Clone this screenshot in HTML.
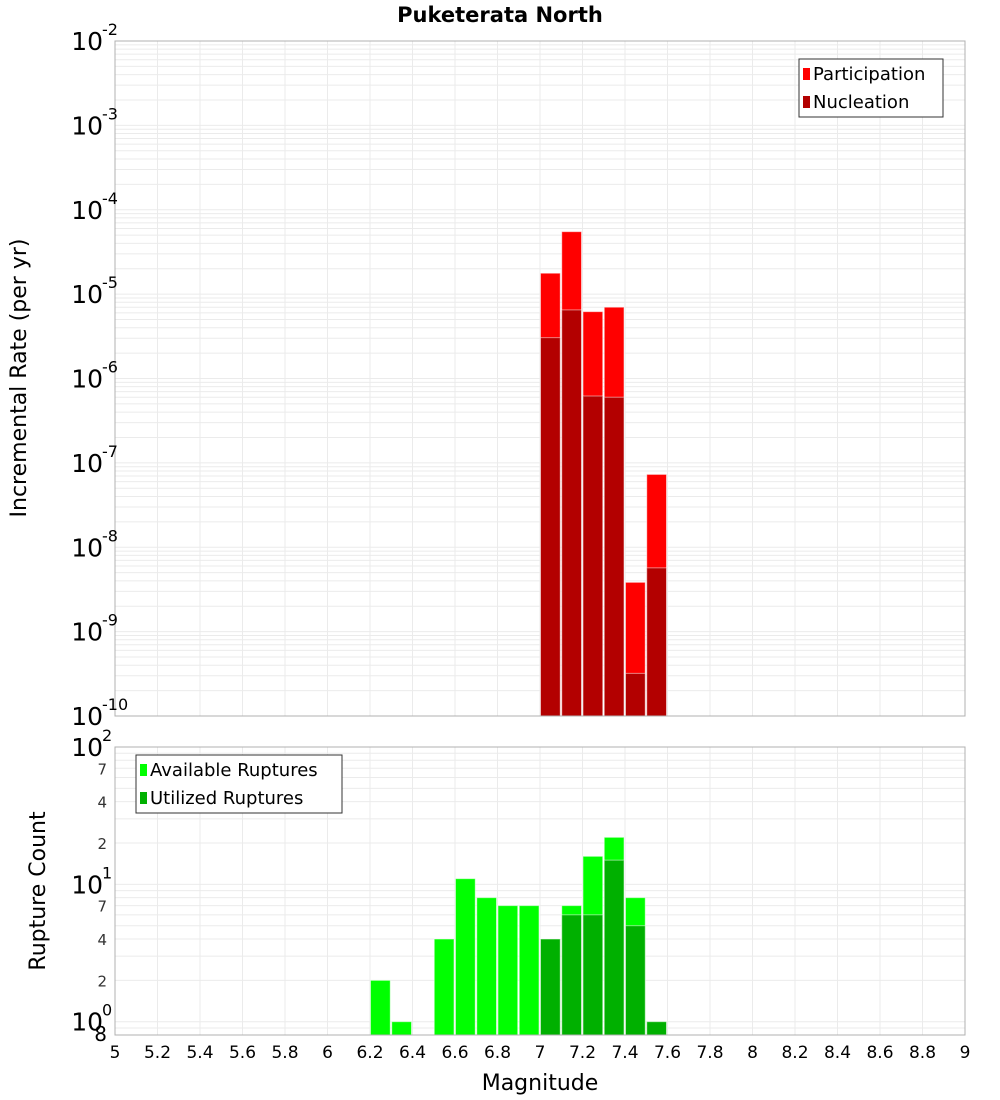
<!DOCTYPE html>
<html><head><meta charset="utf-8"><style>
html,body{margin:0;padding:0;background:#fff}
svg{display:block;font-family:"DejaVu Sans","Liberation Sans",sans-serif}
</style></head><body>
<svg id="chart" width="1000" height="1100" xmlns="http://www.w3.org/2000/svg">
<text x="500" y="22" text-anchor="middle" font-size="21" font-weight="bold">Puketerata North</text>
<g id="gTop"></g><g id="gBot"></g>
<text transform="translate(26,378) rotate(-90)" text-anchor="middle" font-size="22">Incremental Rate (per yr)</text>
<text transform="translate(45,891) rotate(-90)" text-anchor="middle" font-size="22">Rupture Count</text>
<text x="540" y="1090" text-anchor="middle" font-size="22">Magnitude</text>
</svg>
<script>
const mags=[6.25,6.35,6.55,6.65,6.75,6.85,6.95,7.05,7.15,7.25,7.35,7.45,7.55];
const participation=[0,0,0,0,0,0,0,1.77e-5,5.5e-5,6.2e-6,7.0e-6,3.84e-9,7.3e-8];
const nucleation=[0,0,0,0,0,0,0,3.05e-6,6.5e-6,6.2e-7,6.0e-7,3.2e-10,5.7e-9];
const available=[2,1,4,11,8,7,7,4,7,16,22,8,1];
const utilized=[0,0,0,0,0,0,0,4,6,6,15,5,1];
const xTicks=[5,5.2,5.4,5.6,5.8,6,6.2,6.4,6.6,6.8,7,7.2,7.4,7.6,7.8,8,8.2,8.4,8.6,8.8,9];
const NS="http://www.w3.org/2000/svg";
const L=115,R=965;
const T1=41,B1=716,T2=747,B2=1035;
const X=m=>L+(m-5)*(R-L)/4;
const Y1=v=>T1+(-2-Math.log10(v))*(B1-T1)/8;
const lo2=Math.log10(0.8);
const Y2=v=>T2+(2-Math.log10(v))*(B2-T2)/(2-lo2);
function mk(p,tag,a){const e=document.createElementNS(NS,tag);for(const k in a)e.setAttribute(k,a[k]);p.appendChild(e);return e;}
const gTop=document.getElementById('gTop'),gBot=document.getElementById('gBot');
for(let d=-10;d<-2;d++)for(let k=1;k<=9;k++){const y=Y1(k*Math.pow(10,d));
const g=mk(gTop,'line',{x1:L,x2:R,y1:y,y2:y,stroke:'#ebebeb','stroke-width':1});

}
for(let d=-1;d<2;d++)for(let k=1;k<=9;k++){const v=k*Math.pow(10,d);if(v<0.8)continue;const y=Y2(v);
const g=mk(gBot,'line',{x1:L,x2:R,y1:y,y2:y,stroke:'#ebebeb','stroke-width':1});

}
xTicks.forEach(t=>{const x=X(t);
const a=mk(gTop,'line',{x1:x,x2:x,y1:T1,y2:B1,stroke:'#ebebeb'});


const b=mk(gBot,'line',{x1:x,x2:x,y1:T2,y2:B2,stroke:'#ebebeb'});


const tx=mk(gBot,'text',{x:x,y:1058,'text-anchor':'middle','font-size':17});tx.textContent=String(t);

});
const bw=(R-L)/40;
function bar(p,m,v,Y,base,col,name){if(!v)return;const x=X(m)-bw/2+0.5,y=Y(v);
const r=mk(p,'rect',{x:x,y:y,width:bw-1.5,height:base-y,fill:col,stroke:'rgba(255,255,255,0.5)','stroke-width':1});

}
mags.forEach((m,i)=>{bar(gTop,m,participation[i],Y1,B1,'#ff0000','participation-bar');bar(gTop,m,nucleation[i],Y1,B1,'#b30000','nucleation-bar');
bar(gBot,m,available[i],Y2,B2,'#00ff00','available-bar');bar(gBot,m,utilized[i],Y2,B2,'#00b000','utilized-bar');});
const f1=mk(gTop,'rect',{x:L,y:T1,width:R-L,height:B1-T1,fill:'none',stroke:'#b0b0b0'});


const f2=mk(gBot,'rect',{x:L,y:T2,width:R-L,height:B2-T2,fill:'none',stroke:'#b0b0b0'});


function pow(p,y,e,name){const t=mk(p,'text',{x:103,y:y+9,'text-anchor':'end','font-size':25});t.textContent='10';


const s=mk(p,'text',{x:102,y:y-6,'font-size':16});s.textContent=String(e);

}
for(let d=-10;d<=-2;d++)pow(gTop,Y1(Math.pow(10,d)),d,'top-y-tick-label');
[2,1,0].forEach(d=>pow(gBot,Y2(Math.pow(10,d)),d,'bottom-y-tick-label'));
[70,40,20,7,4,2,0.8].forEach(v=>{const t=mk(gBot,'text',{x:107,y:Y2(v)+6,'text-anchor':'end','font-size':v===0.8?20:15,fill:v===0.8?'#000':'#333'});
t.textContent=v===0.8?'8':String(v>=10?v/10:v);

});
function legend(p,x,y,w,items,name){const g=mk(p,'g',{});


mk(g,'rect',{x:x,y:y,width:w,height:58,fill:'#fff',stroke:'#333'});
items.forEach((it,i)=>{mk(g,'rect',{x:x+4,y:y+9+i*28,width:7,height:12,fill:it[1]});
const t=mk(g,'text',{x:x+14,y:y+21+i*28,'font-size':18});t.textContent=it[0];

});}
legend(gTop,799,59,144,[['Participation','#ff0000'],['Nucleation','#b30000']],'top-legend');
legend(gBot,136,755,206,[['Available Ruptures','#00ff00'],['Utilized Ruptures','#00b000']],'bottom-legend');
</script>
</body></html>
